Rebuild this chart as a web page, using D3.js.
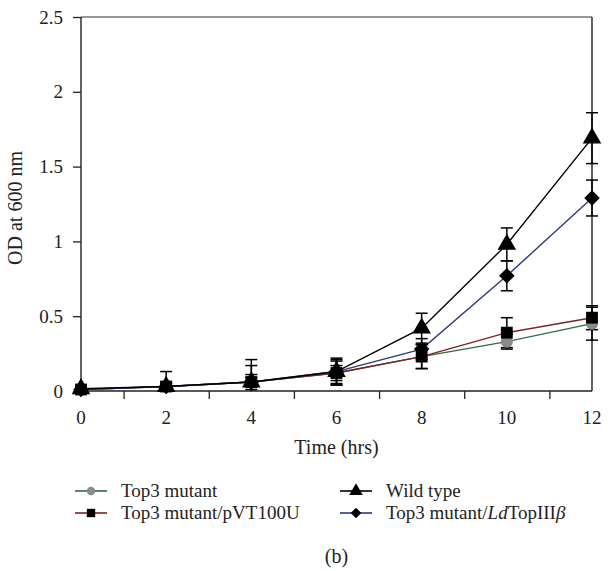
<!DOCTYPE html>
<html>
<head>
<meta charset="utf-8">
<script src="https://cdn.jsdelivr.net/npm/d3@7"></script>
<style>
html,body{margin:0;padding:0;background:#fff;}
svg{display:block;font-family:"Liberation Serif","Times New Roman",serif;}
</style>
</head>
<body>
<svg id="chart" width="611" height="571"></svg>
<script>
const hours = [0, 2, 4, 6, 8, 10, 12];
const xTickValues = [1, 3, 5, 7, 9, 11];
const xLabelValues = [0, 2, 4, 6, 8, 10, 12];
const yTickValues = [0, 0.5, 1, 1.5, 2, 2.5];

const mutantVals   = [0.01, 0.03, 0.06, 0.12, 0.23, 0.33, 0.45];
const mutantErr    = [0.01, 0.02, 0.05, 0.05, 0.08, 0.05, 0.11];
const pvtVals      = [0.01, 0.03, 0.06, 0.12, 0.23, 0.39, 0.49];
const pvtErr       = [0.01, 0.03, 0.11, 0.08, 0.08, 0.10, 0.08];
const wildVals     = [0.015, 0.03, 0.06, 0.13, 0.42, 0.98, 1.69];
const wildErr      = [0.01, 0.10, 0.15, 0.09, 0.10, 0.11, 0.17];
const ldVals       = [0.01, 0.03, 0.06, 0.13, 0.28, 0.77, 1.29];
const ldErr        = [0.01, 0.02, 0.03, 0.08, 0.07, 0.10, 0.12];

const seriesNames = ["Top3 mutant", "Top3 mutant/pVT100U", "Wild type", "Top3 mutant/LdTopIIIβ"];

const series = [
  {name: seriesNames[0], vals: mutantVals, err: mutantErr, color: "#2f6a43", marker: "circle", fill: "#8a8a8a"},
  {name: seriesNames[1], vals: pvtVals, err: pvtErr, color: "#7a2424", marker: "square", fill: "#000"},
  {name: seriesNames[3], vals: ldVals, err: ldErr, color: "#2d3b7c", marker: "diamond", fill: "#000"},
  {name: seriesNames[2], vals: wildVals, err: wildErr, color: "#000", marker: "triangle", fill: "#000"}
];

const svg = d3.select("#chart");
const x = d3.scaleLinear().domain([0, 12]).range([81, 592]);
const y = d3.scaleLinear().domain([0, 2.5]).range([391, 17]);

const symbolMap = {
  circle: d3.symbol().type(d3.symbolCircle).size(115),
  square: d3.symbol().type(d3.symbolSquare).size(140),
  diamond: d3.symbol().type(d3.symbolSquare).size(120),
  triangle: d3.symbol().type(d3.symbolTriangle).size(150)
};
const rot = m => m === "diamond" ? " rotate(45)" : "";

// frame top & right
svg.append("line").attr("x1", x(0)).attr("x2", x(12)).attr("y1", y(2.5)).attr("y2", y(2.5))
  .attr("stroke", "#333").attr("stroke-width", 1.2);
svg.append("line").attr("x1", x(12)).attr("x2", x(12)).attr("y1", y(2.5)).attr("y2", y(0))
  .attr("stroke", "#222").attr("stroke-width", 1.4);

// y axis
const yAxis = d3.axisLeft(y).tickValues(yTickValues).tickFormat(d => d3.format("")(d)).tickSize(8).tickPadding(10);
const gy = svg.append("g").attr("transform", `translate(${x(0)},0)`).call(yAxis);
gy.select(".domain").attr("stroke", "#222").attr("stroke-width", 1.4).attr("d", `M0,${y(0)}V${y(2.5)}`);
gy.selectAll(".tick line").attr("stroke", "#222").attr("stroke-width", 1.3);
gy.selectAll(".tick text").attr("font-size", 19).attr("fill", "#222").attr("font-family", "Liberation Serif");

// x axis: ticks at odd values, labels at even values
const xAxis = d3.axisBottom(x).tickValues(xTickValues).tickFormat("").tickSize(8);
const gx = svg.append("g").attr("transform", `translate(0,${y(0)})`).call(xAxis);
gx.select(".domain").attr("stroke", "#222").attr("stroke-width", 1.4).attr("d", `M${x(0)},0H${x(12)}`);
gx.selectAll(".tick line").attr("stroke", "#222").attr("stroke-width", 1.3);
svg.append("g").selectAll("text").data(xLabelValues).join("text")
  .attr("x", d => x(d)).attr("y", y(0) + 33)
  .attr("text-anchor", "middle").attr("font-size", 19).attr("fill", "#222")
  .text(d => d);

// axis titles
svg.append("text").attr("x", (x(0) + x(12)) / 2).attr("y", 454)
  .attr("text-anchor", "middle").attr("font-size", 20).attr("fill", "#222").text("Time (hrs)");
svg.append("text").attr("transform", `translate(22,${(y(0) + y(2.5)) / 2 + 4}) rotate(-90)`)
  .attr("text-anchor", "middle").attr("font-size", 20).attr("fill", "#222").text("OD at 600 nm");

// lines
const line = d3.line().x((d, i) => x(hours[i])).y(d => y(d));
series.forEach(s => {
  svg.append("path").attr("d", line(s.vals)).attr("fill", "none")
    .attr("stroke", s.color).attr("stroke-width", 1.4);
});

// error bars
const capW = 6;
series.forEach(s => {
  const g = svg.append("g").attr("stroke", "#000").attr("stroke-width", 1.5);
  s.vals.forEach((v, i) => {
    const hi = v + s.err[i], lo = Math.max(0, v - s.err[i]);
    const cx = x(hours[i]);
    g.append("line").attr("x1", cx).attr("x2", cx).attr("y1", y(hi)).attr("y2", y(lo));
    g.append("line").attr("x1", cx - capW).attr("x2", cx + capW).attr("y1", y(hi)).attr("y2", y(hi));
    if (v - s.err[i] >= 0) {
      g.append("line").attr("x1", cx - capW).attr("x2", cx + capW).attr("y1", y(lo)).attr("y2", y(lo));
    }
  });
});

// markers
series.forEach(s => {
  svg.append("g").selectAll("path").data(s.vals).join("path")
    .attr("d", symbolMap[s.marker])
    .attr("transform", (d, i) => `translate(${x(hours[i])},${y(d)})${rot(s.marker)}`)
    .attr("fill", s.fill);
});

// legend
const legendItems = [
  {label: seriesNames[0], color: "#2f6a43", marker: "circle", fill: "#8a8a8a", lx: 75, row: 0},
  {label: seriesNames[1], color: "#7a2424", marker: "square", fill: "#000", lx: 75, row: 1},
  {label: seriesNames[2], color: "#000", marker: "triangle", fill: "#000", lx: 340, row: 0},
  {label: seriesNames[3], color: "#2d3b7c", marker: "diamond", fill: "#000", lx: 340, row: 1}
];
const legendSym = {
  circle: d3.symbol().type(d3.symbolCircle).size(55),
  square: d3.symbol().type(d3.symbolSquare).size(70),
  diamond: d3.symbol().type(d3.symbolSquare).size(55),
  triangle: d3.symbol().type(d3.symbolTriangle).size(80)
};
const rowY = [491, 513];
legendItems.forEach(it => {
  const g = svg.append("g");
  const cy = rowY[it.row];
  g.append("line").attr("x1", it.lx).attr("x2", it.lx + 32).attr("y1", cy).attr("y2", cy)
    .attr("stroke", it.color).attr("stroke-width", 1.6);
  g.append("path").attr("d", legendSym[it.marker])
    .attr("transform", `translate(${it.lx + 16},${cy})${rot(it.marker)}`).attr("fill", it.fill);
  const t = g.append("text").attr("x", it.lx + 46).attr("y", cy + 6)
    .attr("font-size", 19).attr("fill", "#222");
  if (it.label.indexOf("Ld") >= 0) {
    const parts = it.label.split("Ld");
    t.append("tspan").text(parts[0]);
    t.append("tspan").attr("font-style", "italic").text("Ld");
    const rest = parts[1];
    t.append("tspan").text(rest.slice(0, -1));
    t.append("tspan").attr("font-style", "italic").text(rest.slice(-1));
  } else {
    t.text(it.label);
  }
});

svg.append("text").attr("x", (x(0) + x(12)) / 2).attr("y", 563)
  .attr("text-anchor", "middle").attr("font-size", 20).attr("fill", "#222").text("(b)");
</script>
</body>
</html>
